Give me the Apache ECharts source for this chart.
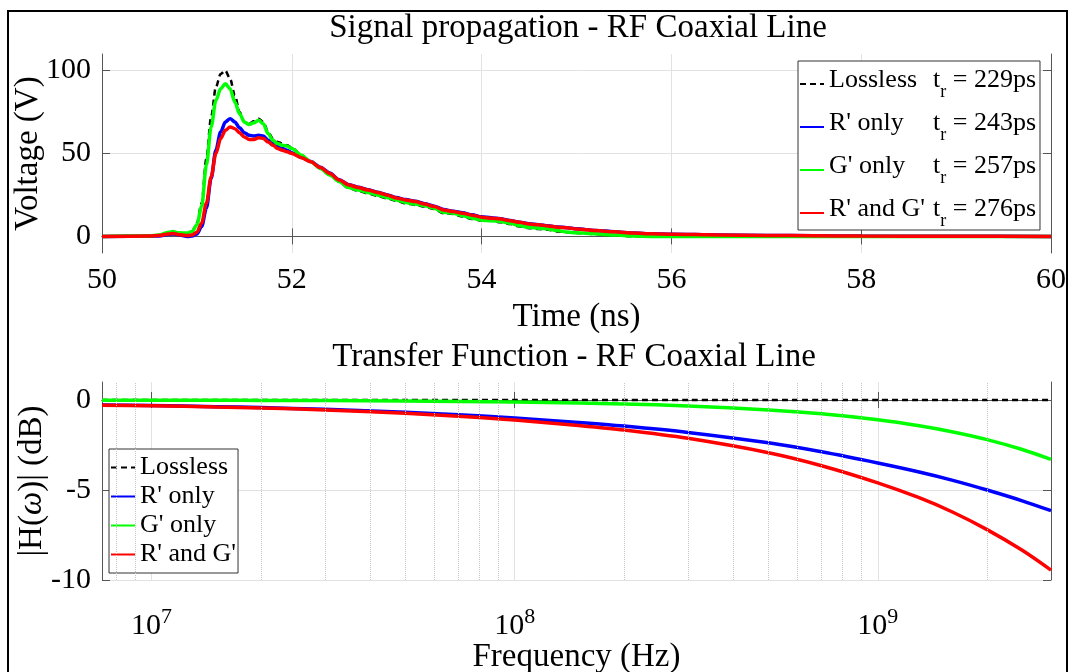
<!DOCTYPE html>
<html><head><meta charset="utf-8">
<script src="https://cdn.jsdelivr.net/npm/echarts@6/dist/echarts.min.js"></script>
<style>html,body{margin:0;padding:0;background:#fff}#c{width:1069px;height:672px}</style>
</head><body><div id="c"></div>
<script>
// ---------- data ----------
const seriesNames = ["Lossless", "R' only", "G' only", "R' and G'"];
const riseTimes = ["229ps", "243ps", "257ps", "276ps"];

const timeNs = [50, 50.5, 50.6, 50.7, 50.75, 50.8, 50.9, 50.95, 51.0, 51.05, 51.1, 51.15, 51.2, 51.25, 51.3, 51.35, 51.4, 51.45, 51.5, 51.55, 51.6, 51.65, 51.7, 51.75, 51.8, 51.85, 51.9, 51.95, 52.0, 52.1, 52.2, 52.3, 52.4, 52.5, 52.6, 52.7, 52.8, 52.9, 53.0, 53.1, 53.2, 53.3, 53.4, 53.5, 53.6, 53.7, 53.8, 53.9, 54.0, 54.1, 54.2, 54.3, 54.4, 54.5, 54.6, 54.7, 54.8, 54.9, 55.0, 55.2, 55.4, 55.6, 55.8, 56, 56.5, 57, 57.5, 58, 59, 60];
const vLossless = [0, 0.3, 0.8, 2.3, 2.8, 2.0, 1.8, 3.0, 8, 20, 47, 72, 90, 98, 100, 95, 85, 75, 69, 68, 69.5, 71, 69, 63, 59, 57, 56, 55, 53.5, 49, 45, 41, 37, 33, 29, 27.5, 26, 24.5, 23, 21.5, 20, 19, 18, 16.5, 14, 13.5, 12, 10.5, 9.5, 9.5, 8.5, 7.5, 6, 5, 4.5, 4, 3, 2.5, 2, 1.4, 0.6, 0.1, 0, 0, 0, 0, 0, 0, 0, 0];
const vROnly = [0, 0.1, 0.3, 1.2, 1.5, 1.0, 0.0, 0.3, 1.5, 6, 17, 35, 52, 63, 69, 71, 69, 65.5, 62.5, 61, 60.5, 61, 60.5, 58, 56, 54, 53, 52, 50.5, 47.8, 45.2, 41.7, 38.2, 34.2, 31.2, 29.7, 28.2, 26.7, 25.2, 23.4, 22.2, 21.2, 19.7, 18.2, 16.2, 15.2, 14.2, 13, 11.8, 11.2, 10.6, 9.6, 8.6, 7.6, 7.1, 6.4, 5.7, 5.3, 4.6, 3.6, 2.8, 2.0, 1.6, 1.3, 0.9, 0.6, 0.4, 0.2, 0.1, 0];
const vGOnly = [0, 0.3, 0.8, 2.5, 3.0, 2.2, 2.0, 3.0, 7, 18, 43, 66, 82, 89, 92, 89, 81, 74, 69, 67.5, 68.5, 70, 68, 62, 58, 56, 55, 54.5, 53, 49, 45, 41, 37, 33, 29.5, 28, 26.5, 25, 23.5, 22, 20.5, 19.5, 18.5, 17, 14.5, 14, 12.5, 11, 9.8, 9.5, 9, 8, 6.5, 5.5, 5, 4.5, 3.5, 2.6, 2.2, 1.6, 0.8, 0.2, 0, 0, 0, 0, 0, 0, 0, 0];
const vRG = [0, 0.2, 0.5, 1.5, 1.8, 1.2, 0.5, 0.8, 2.5, 8, 20, 36, 50, 59, 64, 66, 65, 62.5, 60, 58.5, 58.5, 59.5, 59, 57, 55, 53, 52, 51, 50, 47.5, 45, 41.5, 38, 34, 31, 29.5, 28, 26.5, 25, 23.2, 22, 21, 19.5, 18, 16, 15, 14, 12.8, 11.6, 11, 10.5, 9.5, 8.5, 7.5, 7, 6.3, 5.6, 5.2, 4.5, 3.5, 2.8, 2, 1.6, 1.3, 0.9, 0.6, 0.4, 0.2, 0.1, 0];

const freqHz = [7.3e6, 1e7, 1.5e7, 2e7, 3e7, 5e7, 7e7, 1e8, 1.5e8, 2e8, 3e8, 5e8, 7e8, 1e9, 1.3e9, 1.6e9, 2e9, 2.5e9, 3e9];
const hLossless = [0, 0, 0, 0, 0, 0, 0, 0, 0, 0, 0, 0, 0, 0, 0, 0, 0, 0, 0];
const hROnly = [-0.28, -0.31, -0.37, -0.42, -0.52, -0.68, -0.82, -1.0, -1.25, -1.45, -1.8, -2.38, -2.88, -3.5, -4.0, -4.45, -5.0, -5.6, -6.15];
const hGOnly = [-0.008, -0.011, -0.017, -0.022, -0.033, -0.055, -0.077, -0.11, -0.165, -0.22, -0.33, -0.55, -0.77, -1.1, -1.43, -1.76, -2.2, -2.75, -3.3];
const hRG = [-0.29, -0.32, -0.39, -0.44, -0.55, -0.74, -0.9, -1.11, -1.42, -1.67, -2.13, -2.93, -3.65, -4.6, -5.43, -6.21, -7.2, -8.35, -9.45];

const voltTicks = [0, 50, 100];
const dbTicks = [-10, -5, 0];
const minorFreqs = [8e6, 9e6, 2e7, 3e7, 4e7, 5e7, 6e7, 7e7, 8e7, 9e7, 2e8, 3e8, 4e8, 5e8, 6e8, 7e8, 8e8, 9e8, 2e9];

// ---------- styling ----------
const FONT = '"Liberation Serif","Times New Roman",serif';
const TXT = '#000';
const AX = '#555';
const GRID = '#e2e2e2';
const lineStyles = [
  { color: '#000000', width: 2.5, type: [6, 4] },
  { color: '#0000ff', width: 3.5 },
  { color: '#00ff00', width: 3.5 },
  { color: '#ff0000', width: 3.5 }
];

const timeData = [vLossless, vROnly, vGOnly, vRG];
const freqData = [hLossless, hROnly, hGOnly, hRG];

const series = [];
timeData.forEach((arr, k) => {
  series.push({
    type: 'line', name: seriesNames[k], xAxisIndex: 0, yAxisIndex: 0,
    data: timeNs.map((t, i) => [t, arr[i]]),
    symbol: 'none', smooth: 0.3, smoothMonotone: 'x',
    lineStyle: lineStyles[k], itemStyle: { color: lineStyles[k].color },
    z: 3, animation: false
  });
});
series.push({
  type: 'line', name: 'minorGrid', xAxisIndex: 2, yAxisIndex: 2,
  data: [[1e8, 0]], symbol: 'none', lineStyle: { opacity: 0 }, silent: true, z: 1,
  markLine: {
    silent: true, symbol: ['none', 'none'], label: { show: false }, animation: false,
    lineStyle: { type: 'dotted', color: '#c4c4c4', width: 1 },
    data: minorFreqs.map(f => ({ xAxis: f }))
  }, animation: false
});
freqData.forEach((arr, k) => {
  series.push({
    type: 'line', name: seriesNames[k], xAxisIndex: 2, yAxisIndex: 2,
    data: freqHz.map((f, i) => [f, arr[i]]),
    symbol: 'none', smooth: 0.3,
    lineStyle: lineStyles[k], itemStyle: { color: lineStyles[k].color },
    z: 3, animation: false
  });
});

const axLine = { show: true, lineStyle: { color: AX, width: 1 } };
const axTick = { show: true, inside: true, length: 8, lineStyle: { color: AX } };
const labelStyle = { fontFamily: FONT, fontSize: 30, color: TXT };
const nameStyle = { fontFamily: FONT, fontSize: 33, color: TXT };

function powLabel(v) {
  const e = Math.log10(v);
  if (Math.abs(e - Math.round(e)) < 1e-6) return '{b|10}{s|' + Math.round(e) + '}';
  return '';
}

const option = {
  backgroundColor: '#fff',
  animation: false,
  grid: [
    { left: 102, top: 54, width: 949, height: 199, outerBoundsMode: 'none', containLabel: false },
    { left: 102, top: 382, width: 949, height: 198, outerBoundsMode: 'none', containLabel: false }
  ],
  xAxis: [
    { gridIndex: 0, type: 'value', min: 50, max: 60, interval: 2,
      axisLine: axLine, axisTick: axTick,
      axisLabel: Object.assign({ margin: 12, lineHeight: 30 }, labelStyle),
      splitLine: { show: true, lineStyle: { color: GRID } },
      name: 'Time (ns)', nameLocation: 'middle', nameGap: 48, nameMoveOverlap: false, nameTextStyle: nameStyle },
    { gridIndex: 0, type: 'value', position: 'top', min: 50, max: 60, interval: 2,
      axisLine: axLine, axisTick: axTick, axisLabel: { show: false }, splitLine: { show: false } },
    { gridIndex: 1, type: 'log', logBase: 10, min: 7.3e6, max: 3e9,
      axisLine: axLine, axisTick: axTick,
      axisLabel: { margin: 26, formatter: powLabel, rich: {
        b: { fontFamily: FONT, fontSize: 30, color: TXT, lineHeight: 40 },
        s: { fontFamily: FONT, fontSize: 22, color: TXT, lineHeight: 10, verticalAlign: 'top' } } },
      splitLine: { show: true, lineStyle: { color: GRID } },
      name: 'Frequency (Hz)', nameLocation: 'middle', nameGap: 61, nameMoveOverlap: false, nameTextStyle: nameStyle },
    { gridIndex: 1, type: 'log', logBase: 10, position: 'top', min: 7.3e6, max: 3e9,
      axisLine: axLine, axisTick: axTick, axisLabel: { show: false }, splitLine: { show: false } }
  ],
  yAxis: [
    { gridIndex: 0, type: 'value', min: -10, max: 110,
      axisLine: axLine, axisTick: Object.assign({ customValues: voltTicks }, axTick),
      axisLabel: Object.assign({ margin: 11, customValues: voltTicks }, labelStyle),
      splitLine: { show: true, lineStyle: { color: GRID } },
      name: 'Voltage (V)', nameLocation: 'middle', nameGap: 57, nameMoveOverlap: false, nameTextStyle: nameStyle },
    { gridIndex: 0, type: 'value', position: 'right', min: -10, max: 110,
      axisLine: axLine, axisTick: Object.assign({ customValues: voltTicks }, axTick),
      axisLabel: { show: false }, splitLine: { show: false } },
    { gridIndex: 1, type: 'value', min: -10, max: 1,
      axisLine: axLine, axisTick: Object.assign({ customValues: dbTicks }, axTick),
      axisLabel: Object.assign({ margin: 11, customValues: dbTicks }, labelStyle),
      splitLine: { show: true, lineStyle: { color: GRID } },
      name: '|H({i|ω})| (dB)', nameLocation: 'middle', nameGap: 53, nameMoveOverlap: false,
      nameTextStyle: Object.assign({ rich: { i: { fontFamily: FONT, fontSize: 33, fontStyle: 'italic', color: TXT } } }, nameStyle) },
    { gridIndex: 1, type: 'value', position: 'right', min: -10, max: 1,
      axisLine: axLine, axisTick: Object.assign({ customValues: dbTicks }, axTick),
      axisLabel: { show: false }, splitLine: { show: false } }
  ],
  legend: [
    { data: seriesNames, orient: 'vertical', left: 798, top: 61,
      itemWidth: 24, itemHeight: 12, itemGap: 9, padding: [6, 4, 0, 1],
      itemStyle: { opacity: 0 },
      borderColor: '#333', borderWidth: 1, backgroundColor: '#fff', borderRadius: 0,
      selectedMode: false,
      formatter: name => '{n|' + name + '}{t|t}{s|r}{e| = ' + riseTimes[seriesNames.indexOf(name)] + '}',
      textStyle: { fontFamily: FONT, fontSize: 26, color: TXT, rich: {
        n: { fontFamily: FONT, fontSize: 26, color: TXT, width: 104, verticalAlign: 'top' },
        t: { fontFamily: FONT, fontSize: 26, color: TXT, verticalAlign: 'top' },
        s: { fontFamily: FONT, fontSize: 18, color: TXT, padding: [16, 0, 0, 0], verticalAlign: 'bottom' },
        e: { fontFamily: FONT, fontSize: 26, color: TXT, verticalAlign: 'top' } } } },
    { data: seriesNames, orient: 'vertical', left: 109, top: 449,
      itemWidth: 24, itemHeight: 12, itemGap: 0, padding: [4, 2, 4, 1],
      itemStyle: { opacity: 0 },
      borderColor: '#333', borderWidth: 1, backgroundColor: '#fff', borderRadius: 0,
      selectedMode: false,
      textStyle: { fontFamily: FONT, fontSize: 26, color: TXT, lineHeight: 29 } }
  ],
  graphic: [
    { type: 'rect', silent: true, z: 100, shape: { x: 8, y: 11, width: 1059, height: 700 },
      style: { fill: 'none', stroke: '#000', lineWidth: 2 } },
    { type: 'text', silent: true, x: 578, y: 28, z: 100,
      style: { text: 'Signal propagation - RF Coaxial Line', fontFamily: FONT, fontSize: 33, fill: TXT,
        align: 'center', verticalAlign: 'middle', textAlign: 'center', textVerticalAlign: 'middle' } },
    { type: 'text', silent: true, x: 574, y: 357, z: 100,
      style: { text: 'Transfer Function - RF Coaxial Line', fontFamily: FONT, fontSize: 33, fill: TXT,
        align: 'center', verticalAlign: 'middle', textAlign: 'center', textVerticalAlign: 'middle' } }
  ],
  series: series
};

const chart = echarts.init(document.getElementById('c'), null, { renderer: 'canvas' });
chart.setOption(option);
</script>
</body></html>
